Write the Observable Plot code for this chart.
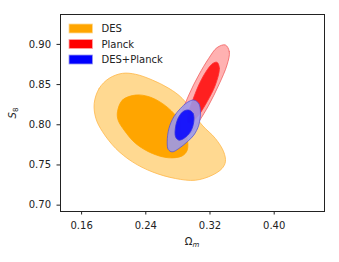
<!DOCTYPE html>
<html><head><meta charset="utf-8">
<script src="https://cdn.jsdelivr.net/npm/d3@7"></script>
<script src="https://cdn.jsdelivr.net/npm/@observablehq/plot@0.6"></script>
<style>body{margin:0;background:#fff} #chart svg{display:block}</style>
</head><body><div id="chart"></div>
<script>
// Axis ticks
const xTicks = [0.16, 0.24, 0.32, 0.40];
const yTicks = [0.70, 0.75, 0.80, 0.85, 0.90];
// Legend
const seriesNames = ["DES", "Planck", "DES+Planck"];
const seriesColors = ["#FFA500", "#FF0000", "#0000FF"];
const seriesLight = ["#FFD991", "#FFA3A3", "#9A98EE"];

// Contours (Ωm, S8), 95% (outer) and 68% (inner)
const desOuterOm = [0.1757,0.1819,0.1943,0.2109,0.2274,0.2481,0.2688,0.2854,0.3102,0.3267,0.3371,0.3392,0.3350,0.3226,0.3019,0.2771,0.2481,0.2233,0.2026,0.1861,0.1778];
const desOuterS8 = [0.8266,0.8453,0.8578,0.8640,0.8628,0.8557,0.8453,0.8328,0.7996,0.7830,0.7663,0.7539,0.7456,0.7372,0.7310,0.7331,0.7414,0.7539,0.7705,0.7913,0.8079];
const desInnerOm = [0.2047,0.2109,0.2274,0.2440,0.2605,0.2750,0.2854,0.2916,0.2916,0.2854,0.2688,0.2481,0.2274,0.2130,0.2055];
const desInnerS8 = [0.8162,0.8308,0.8370,0.8349,0.8266,0.8141,0.7996,0.7830,0.7684,0.7613,0.7589,0.7643,0.7767,0.7933,0.8058];
const planckOuterOm = [0.3391,0.3441,0.3412,0.3309,0.3185,0.3060,0.2957,0.2874,0.2837,0.2845,0.2936,0.3060,0.3185,0.3288];
const planckOuterS8 = [0.8993,0.8910,0.8744,0.8495,0.8245,0.8037,0.7892,0.7817,0.7913,0.8121,0.8370,0.8619,0.8827,0.8960];
const planckInnerOm = [0.3288,0.3317,0.3267,0.3164,0.3060,0.2978,0.2928,0.2924,0.2978,0.3060,0.3164,0.3238];
const planckInnerS8 = [0.8777,0.8702,0.8495,0.8287,0.8121,0.8037,0.8025,0.8121,0.8287,0.8495,0.8682,0.8765];
const jointOuterOm = [0.2998,0.3060,0.3081,0.3060,0.2998,0.2916,0.2812,0.2729,0.2680,0.2667,0.2688,0.2750,0.2833,0.2916];
const jointOuterS8 = [0.8308,0.8266,0.8162,0.7996,0.7871,0.7788,0.7705,0.7663,0.7692,0.7788,0.7954,0.8100,0.8204,0.8278];
const jointInnerOm = [0.2936,0.2990,0.2998,0.2957,0.2874,0.2812,0.2771,0.2771,0.2812,0.2874];
const jointInnerS8 = [0.8183,0.8141,0.8037,0.7913,0.7830,0.7809,0.7850,0.7975,0.8100,0.8170];

const toRows = (om, s8) => om.map((d, i) => ({om: d, s8: s8[i]}));
const contours = [
  {rows: toRows(desOuterOm, desOuterS8), fill: seriesLight[0], op: 1, stroke: "#FFB84A"},
  {rows: toRows(desInnerOm, desInnerS8), fill: seriesColors[0], op: 1, stroke: "#FFA500"},
  {rows: toRows(planckOuterOm, planckOuterS8), fill: seriesLight[1], op: 0.85, stroke: "#F06060"},
  {rows: toRows(planckInnerOm, planckInnerS8), fill: seriesColors[1], op: 0.82, stroke: "#FF3030"},
  {rows: toRows(jointOuterOm, jointOuterS8), fill: seriesLight[2], op: 0.88, stroke: "#5555D5"},
  {rows: toRows(jointInnerOm, jointInnerS8), fill: seriesColors[2], op: 0.85, stroke: "#3030E0"}
];

const plot = Plot.plot({
  width: 339, height: 262,
  marginLeft: 60, marginRight: 15, marginTop: 14, marginBottom: 51,
  x: {domain: [0.1337, 0.4627]},
  y: {domain: [0.6921, 0.9372]},
  style: {fontFamily: "DejaVu Sans", fontSize: "10px", color: "#222", background: "white"},
  marks: [
    ...contours.map(c => Plot.line(c.rows, {x: "om", y: "s8", curve: "catmull-rom-closed",
      fill: c.fill, fillOpacity: c.op, stroke: c.stroke, strokeWidth: 0.8})),
    Plot.frame({stroke: "#222", strokeWidth: 1}),
    Plot.axisX({ticks: xTicks, tickSize: 3.5, tickPadding: 7, tickFormat: d3.format(".2f"), label: null}),
    Plot.axisY({ticks: yTicks, tickSize: 3.5, tickPadding: 6, tickFormat: d3.format(".2f"), label: null})
  ]
});
document.getElementById("chart").append(plot);

const svg = d3.select(plot);
const lg = svg.append("g").attr("text-anchor", "start");
seriesNames.forEach((name, i) => {
  const y0 = 24 + i * 15.5;
  lg.append("rect").attr("x", 69).attr("y", y0).attr("width", 23.5).attr("height", 9)
    .attr("fill", seriesColors[i]).attr("stroke", seriesLight[i]).attr("stroke-width", 0.8);
  lg.append("text").attr("x", 101.5).attr("y", y0 + 4.5).attr("dy", "0.36em")
    .attr("text-anchor", "start")
    .attr("fill", "#222").style("font", "10px 'DejaVu Sans'").text(name);
});
const yl = svg.append("text").attr("transform", "translate(15.5,113) rotate(-90)")
  .attr("text-anchor", "middle").attr("fill", "#222").style("font", "10px 'DejaVu Sans'");
yl.append("tspan").attr("font-style", "italic").text("S");
yl.append("tspan").attr("font-size", "7px").attr("dy", "2").text("8");
const xl = svg.append("text").attr("x", 192).attr("y", 245)
  .attr("text-anchor", "middle").attr("fill", "#222").style("font", "10px 'DejaVu Sans'");
xl.append("tspan").text("Ω");
xl.append("tspan").attr("font-size", "7px").attr("font-style", "italic").attr("dy", "2").text("m");
</script></body></html>
